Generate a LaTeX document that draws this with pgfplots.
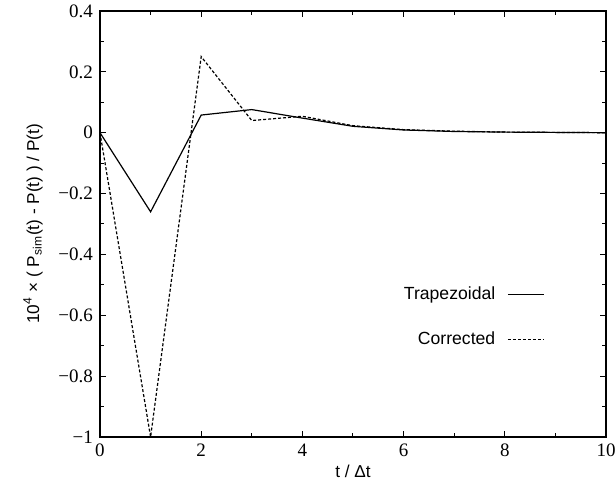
\documentclass[border=0pt]{standalone}
\usepackage{fontspec}
\setmainfont{Liberation Serif}
\newfontfamily\sans{Liberation Sans}
\usepackage{pgfplots}
\pgfplotsset{compat=1.18}
\begin{document}
\begin{tikzpicture}
\begin{axis}[
  name=ax,
  at={(0,0)}, anchor=south west,
  scale only axis,
  width=253pt, height=213pt,
  xmin=0, xmax=10, ymin=-1, ymax=0.4,
  xtick={0,2,4,6,8,10},
  ytick={-1,-0.8,-0.6,-0.4,-0.2,0,0.2,0.4},
  yticklabels={−1,−0.8,−0.6,−0.4,−0.2,0,0.2,0.4},
  minor x tick num=1, minor y tick num=1,
  tick align=inside,
  major tick length=3pt, minor tick length=2pt,
  axis line style={line width=0.6pt},
  every tick/.style={line width=0.5pt, black},
  tick label style={font=\fontsize{9.5}{11}\selectfont},
  /pgf/number format/assume math mode=true,
  xlabel={\sans t / Δt},
  ylabel={\sans 10\textsuperscript{4} × ( P\textsubscript{sim}(t) - P(t) ) / P(t)},
  label style={font=\fontsize{8.6}{10}\selectfont},
  xlabel style={yshift=3pt},
  ylabel style={yshift=1pt},
  legend style={draw=none, fill=none, at={(0.891,0.372)}, anchor=north east,
    font=\sans\fontsize{8.8}{10}\selectfont, row sep=10.5pt,
    legend cell align=right},
  legend plot pos=right,
  legend image code/.code={\path (0pt,0pt); \draw[#1] (4pt,0pt) -- (22pt,0pt);},
]
\addplot[black, line width=0.6pt] coordinates {
(0,0) (1,-0.26) (2,0.058) (3,0.076) (4,0.048) (5,0.021) (6,0.009) (7,0.004) (8,0.002) (9,0.001) (10,0)};
\addlegendentry{Trapezoidal}
\addplot[black, line width=0.6pt, dash pattern=on 1.5pt off 1pt] coordinates {
(0,0) (1,-1) (2,0.25) (3,0.04) (4,0.054) (5,0.023) (6,0.01) (7,0.005) (8,0.002) (9,0.001) (10,0)};
\addlegendentry{Corrected}
\end{axis}
\pgfresetboundingbox
\path[use as bounding box] (ax.south west) ++(-50pt,-24pt) rectangle ++(308pt,242.5pt);
\end{tikzpicture}
\end{document}
